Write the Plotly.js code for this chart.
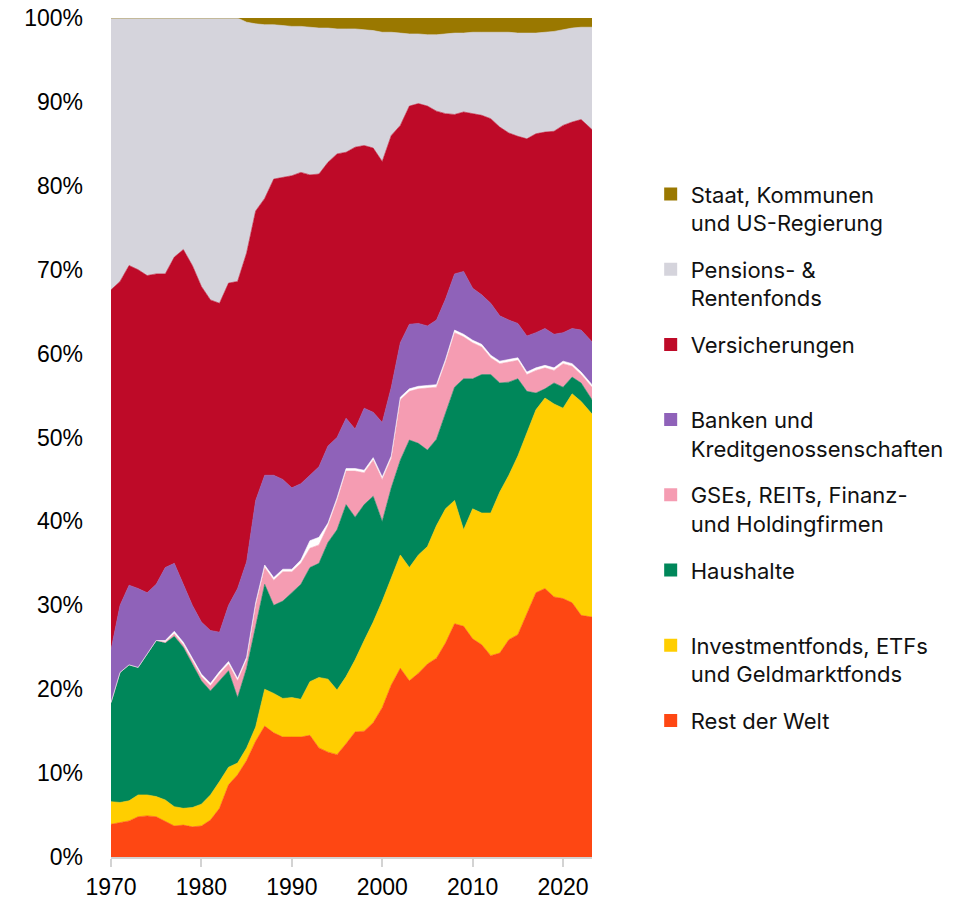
<!DOCTYPE html>
<html>
<head>
<meta charset="utf-8">
<script src="https://cdn.plot.ly/plotly-3.0.1.min.js"></script>
<style>
  html, body { margin: 0; padding: 0; background: #ffffff; }
  #chart { width: 971px; height: 903px; }
</style>
</head>
<body>
<div id="chart"></div>
<script>
// Years (quarterly series sampled once per year; last point early 2023)
const years = [1970,1971,1972,1973,1974,1975,1976,1977,1978,1979,
  1980,1981,1982,1983,1984,1985,1986,1987,1988,1989,
  1990,1991,1992,1993,1994,1995,1996,1997,1998,1999,
  2000,2001,2002,2003,2004,2005,2006,2007,2008,2009,
  2010,2011,2012,2013,2014,2015,2016,2017,2018,2019,
  2020,2021,2022,2023.2];

// Shares in percent, stacked bottom -> top
const restDerWelt = [3.9,4.1,4.3,4.8,4.9,4.8,4.2,3.7,3.8,3.6,
  3.7,4.4,5.8,8.6,9.8,11.5,13.8,15.6,14.8,14.3,
  14.3,14.3,14.5,13.0,12.5,12.2,13.5,14.9,15.0,16.0,
  17.8,20.5,22.5,21.0,21.9,23.0,23.7,25.5,27.8,27.5,
  26.0,25.3,24.0,24.3,25.9,26.5,29.0,31.5,32.0,31.0,
  30.8,30.3,28.8,28.6];
const investmentfonds = [2.7,2.4,2.4,2.6,2.5,2.4,2.6,2.3,2.0,2.3,
  2.6,3.0,3.2,2.1,1.4,1.5,1.7,4.4,4.7,4.6,
  4.7,4.5,6.4,8.4,8.7,7.7,8.0,8.6,10.8,12.0,
  12.7,12.8,13.5,13.5,14.1,14.0,15.8,16.0,14.7,11.5,
  15.5,15.7,17.0,19.2,19.6,21.3,21.5,21.8,22.7,23.0,
  22.7,24.9,25.5,24.2];
const haushalte = [11.8,15.5,16.2,15.2,16.8,18.6,18.7,20.3,19.2,17.1,
  14.7,12.4,12.0,11.5,7.8,9.5,12.0,12.5,10.5,11.6,
  12.5,13.7,13.6,13.6,16.3,19.1,20.5,17.0,16.2,15.0,
  9.5,10.7,11.3,15.2,13.3,11.5,10.3,11.5,13.5,18.0,
  15.5,16.5,16.5,13.0,11.1,9.2,5.0,2.0,1.1,2.5,
  2.5,2.0,2.2,1.7];
const gses = [0,0,0,0,0,0,0.1,0.3,0.3,0.4,
  0.5,0.6,0.8,0.8,2.0,1.0,2.5,2.0,3.0,3.5,
  2.5,2.5,2.3,2.2,2.0,3.5,4.0,5.5,3.8,4.3,
  5.0,3.5,7.2,5.8,6.5,7.4,6.2,6.0,6.5,5.0,
  4.3,3.3,2.0,2.3,2.4,2.2,2.0,2.7,2.5,1.5,
  2.8,1.3,1.0,1.5];
const sonstige = [0,0,0,0,0,0,0.2,0.3,0.3,0.3,
  0.3,0.3,0.3,0.3,0.3,0.3,0.3,0.3,0.3,0.3,
  0.3,0.4,0.9,0.9,0.3,0.3,0.3,0.3,0.3,0.3,
  0.3,0.3,0.3,0.3,0.3,0.3,0.3,0.3,0.3,0.3,
  0.3,0.3,0.3,0.3,0.3,0.3,0.3,0.3,0.3,0.3,
  0.3,0.3,0.3,0.3];
const banken = [6.3,8.0,9.5,9.4,7.3,6.7,8.7,8.1,6.9,6.3,
  6.2,6.3,4.7,6.7,10.7,11.4,12.2,10.7,12.2,10.7,
  9.7,9.1,7.8,8.4,9.2,7.2,6.0,4.7,7.4,5.4,
  6.5,8.2,6.5,7.7,7.5,7.1,7.7,7.2,6.7,7.5,
  6.2,5.9,6.2,5.4,4.7,4.1,4.3,4.2,4.4,4.0,
  3.4,4.2,5.0,5.1];
const versicherungen = [42.9,38.6,38.1,38.0,37.8,37.0,35.0,36.5,39.9,40.5,
  40.0,39.4,39.2,38.4,36.6,36.8,34.5,33.0,35.3,36.0,
  37.2,37.1,35.8,34.9,33.8,33.8,31.7,33.6,31.3,31.5,
  31.1,30.0,25.9,26.0,26.2,26.2,24.9,22.1,19.0,19.0,
  20.8,21.4,22.0,22.5,22.3,22.3,23.5,23.7,23.4,24.2,
  24.7,24.6,25.1,25.3];
const pensionsfonds = [32.4,31.4,29.5,30.0,30.7,30.5,30.5,28.5,27.6,29.5,
  32.0,33.6,34.0,31.6,31.4,27.5,22.3,20.7,18.4,18.1,
  17.8,17.4,17.6,17.4,16.0,14.9,14.7,14.1,13.8,14.0,
  15.4,12.3,11.0,8.6,8.3,8.5,9.1,9.5,9.7,9.4,
  9.7,9.9,10.3,11.3,12.0,12.3,12.6,12.0,11.9,11.9,
  11.4,11.2,11.0,12.2];
const staat = [0,0,0,0,0,0,0,0,0,0,
  0,0,0,0,0,0.5,0.7,0.8,0.8,0.9,
  1.0,1.0,1.1,1.2,1.2,1.3,1.3,1.3,1.4,1.5,
  1.7,1.7,1.8,1.9,1.9,2.0,2.0,1.9,1.8,1.8,
  1.7,1.7,1.7,1.7,1.7,1.8,1.8,1.8,1.7,1.6,
  1.4,1.2,1.1,1.1];

const names = {
  staat: 'Staat, Kommunen<br>und US-Regierung',
  pens: 'Pensions- &amp;<br>Rentenfonds',
  vers: 'Versicherungen<br>&nbsp;',
  banken: 'Banken und<br>Kreditgenossenschaften',
  gses: 'GSEs, REITs, Finanz-<br>und Holdingfirmen',
  haus: 'Haushalte<br>&nbsp;',
  invest: 'Investmentfonds, ETFs<br>und Geldmarktfonds',
  rest: 'Rest der Welt<br>&nbsp;'
};
const colors = {
  staat: '#9a7800', pens: '#d5d4dc', vers: '#be0a28', banken: '#8f62b9',
  gses: '#f59cb2', sonst: '#ffffff', haus: '#00875a', invest: '#ffce00', rest: '#fe4713'
};

function area(y, color) {
  return {
    type: 'scatter', x: years, y: y, stackgroup: 'one', groupnorm: 'percent',
    mode: 'lines', line: {color: color, width: 0.6, shape: 'linear'},
    fillcolor: color, showlegend: false, hoverinfo: 'skip'
  };
}
const areaTraces = [
  area(restDerWelt, colors.rest),
  area(investmentfonds, colors.invest),
  area(haushalte, colors.haus),
  area(gses, colors.gses),
  area(sonstige, colors.sonst),
  area(banken, colors.banken),
  area(versicherungen, colors.vers),
  area(pensionsfonds, colors.pens),
  area(staat, colors.staat)
];
const legendOrder = ['staat','pens','vers','banken','gses','haus','invest','rest'];
const legendTraces = legendOrder.map((k, i) => ({
  type: 'scatter', x: [null], y: [null], mode: 'markers',
  marker: {symbol: 'square', size: 13, color: colors[k], line: {width: 0}},
  name: names[k], legendgroup: 'g' + i, showlegend: true, hoverinfo: 'skip'
}));

const axisFont = {family: 'Liberation Sans, Arial, sans-serif', size: 23, color: '#000000'};
const layout = {
  width: 971, height: 903,
  margin: {l: 111, r: 379, t: 18, b: 46},
  paper_bgcolor: '#ffffff', plot_bgcolor: '#ffffff',
  showlegend: true,
  legend: {
    x: 1.122, xanchor: 'left', y: 0.815, yanchor: 'top',
    traceorder: 'grouped', tracegroupgap: 15, valign: 'top',
    font: {family: 'Inter, Roboto, sans-serif', size: 22, color: '#111111'},
    bgcolor: 'rgba(0,0,0,0)', itemclick: false
  },
  xaxis: {
    range: [1970, 2023.2], tickmode: 'array', tickvals: [1970,1980,1990,2000,2010,2020],
    ticktext: ['1970','1980','1990','2000','2010','2020'],
    ticks: 'outside', ticklen: 8, tickwidth: 2, tickcolor: '#d3d3d3',
    showline: true, linecolor: '#d3d3d3', linewidth: 2,
    showgrid: false, zeroline: false, tickfont: axisFont
  },
  yaxis: {
    range: [0, 100], tickmode: 'array', tickvals: [0,10,20,30,40,50,60,70,80,90,100],
    ticktext: ['0%','10%','20%','30%','40%','50%','60%','70%','80%','90%','100%'],
    ticks: '', showline: false, showgrid: true, gridcolor: '#d9d9d9', gridwidth: 1,
    zeroline: false, tickfont: axisFont, ticklabelstandoff: 27
  }
};

Plotly.newPlot('chart', areaTraces.concat(legendTraces), layout, {displayModeBar: false, staticPlot: true});
</script>
</body>
</html>
